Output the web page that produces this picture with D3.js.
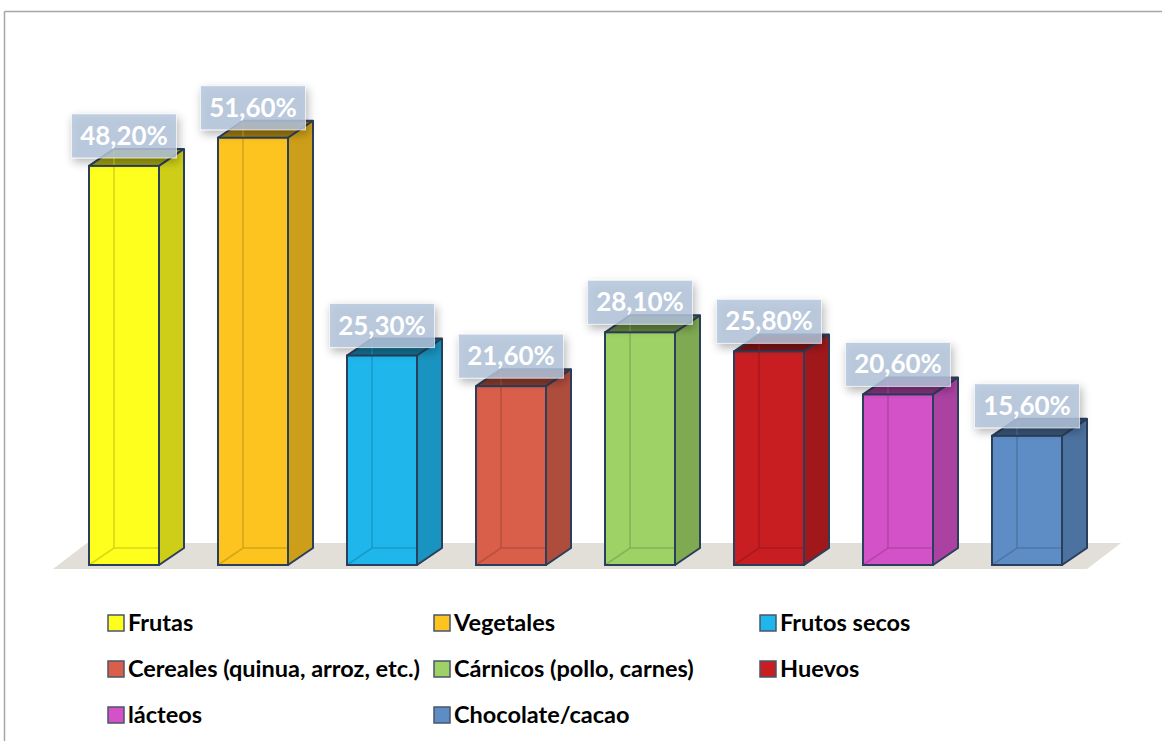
<!DOCTYPE html>
<html>
<head>
<meta charset="utf-8">
<script src="https://cdn.jsdelivr.net/npm/d3@7"></script>
<style>
  html, body { margin: 0; padding: 0; background: #fff; }
  svg { display: block; }
</style>
</head>
<body>
<div id="chart"></div>
<script>
// Food groups and their share (%)
const categories = ["Frutas", "Vegetales", "Frutos secos", "Cereales (quinua, arroz, etc.)",
  "Cárnicos (pollo, carnes)", "Huevos", "lácteos", "Chocolate/cacao"];
const values = [48.2, 51.6, 25.3, 21.6, 28.1, 25.8, 20.6, 15.6];
const valueLabels = ["48,20%", "51,60%", "25,30%", "21,60%", "28,10%", "25,80%", "20,60%", "15,60%"];
const colors = ["#ffff1e", "#fdc41f", "#1fb6ec", "#d95f4b", "#9ed266", "#c81e22", "#d452c8", "#5e8dc6"];

const W = 1162, H = 741;
const svg = d3.select("#chart").append("svg").attr("width", W).attr("height", H);

// frame lines
svg.append("line").attr("x1", 4.5).attr("y1", 11.5).attr("x2", W).attr("y2", 11.5)
  .attr("stroke", "#a6a6a6").attr("stroke-width", 1.5);
svg.append("line").attr("x1", 4.5).attr("y1", 11.5).attr("x2", 4.5).attr("y2", H)
  .attr("stroke", "#a6a6a6").attr("stroke-width", 1.5);

const defs = svg.append("defs");
const glow = defs.append("filter").attr("id", "glow")
  .attr("x", "-30%").attr("y", "-40%").attr("width", "160%").attr("height", "190%");
glow.append("feGaussianBlur").attr("in", "SourceAlpha").attr("stdDeviation", 5).attr("result", "b");
glow.append("feOffset").attr("in", "b").attr("dx", 2).attr("dy", 4).attr("result", "o");
glow.append("feComponentTransfer").attr("in", "o").attr("result", "s")
  .append("feFuncA").attr("type", "linear").attr("slope", 0.35);
const m = glow.append("feMerge");
m.append("feMergeNode").attr("in", "s");
m.append("feMergeNode").attr("in", "SourceGraphic");

// scales
const step = 129, bw = 70;
const pIn = (step - bw) / step;
const x = d3.scaleBand().domain(categories)
  .range([89 - step * pIn / 2, 89 - step * pIn / 2 + step * categories.length])
  .paddingInner(pIn).paddingOuter(pIn / 2);
const y = d3.scaleLinear().domain([0, 60]).range([565, 565 - 60 * 8.28]);

const dx = 25, dy = -17;     // bar depth
const fdx = 34, fdy = -26;   // floor depth

// floor
const floorY = 569;
const fx0 = 53, fx1 = 1087;
svg.append("polygon")
  .attr("points", [[fx0, floorY], [fx1, floorY], [fx1 + fdx, floorY + fdy], [fx0 + fdx, floorY + fdy]].join(" "))
  .attr("fill", "#e2ded8");

const edge = "#2a3f5c";
const bars = svg.append("g");
categories.forEach((c, i) => {
  const x0 = x(c), x1 = x0 + x.bandwidth();
  const yt = y(values[i]), yb = y(0);
  const col = d3.color(colors[i]);
  const g = bars.append("g");
  // front face
  g.append("rect").attr("x", x0).attr("y", yt).attr("width", bw).attr("height", yb - yt)
    .attr("fill", col.formatHex());
  // right face
  g.append("polygon")
    .attr("points", [[x1, yt], [x1 + dx, yt + dy], [x1 + dx, yb + dy], [x1, yb]].join(" "))
    .attr("fill", col.darker(0.6).formatHex());
  // top face
  g.append("polygon")
    .attr("points", [[x0, yt], [x1, yt], [x1 + dx, yt + dy], [x0 + dx, yt + dy]].join(" "))
    .attr("fill", col.darker(1.35).formatHex());
  // hidden edges seen through the translucent box
  const hid = col.darker(0.6).formatHex();
  g.append("polyline")
    .attr("points", [[x0, yb], [x0 + dx, yb + dy], [x1 + dx, yb + dy]].join(" "))
    .attr("fill", "none").attr("stroke", hid).attr("stroke-width", 1.6).attr("stroke-opacity", 0.8);
  g.append("line").attr("x1", x0 + dx).attr("y1", yb + dy).attr("x2", x0 + dx).attr("y2", yt + dy)
    .attr("stroke", hid).attr("stroke-width", 1.6).attr("stroke-opacity", 0.8);
  // visible edges
  g.append("rect").attr("x", x0).attr("y", yt).attr("width", bw).attr("height", yb - yt)
    .attr("fill", "none").attr("stroke", edge).attr("stroke-width", 2);
  g.append("polyline")
    .attr("points", [[x0, yt], [x0 + dx, yt + dy], [x1 + dx, yt + dy], [x1 + dx, yb + dy], [x1, yb]].join(" "))
    .attr("fill", "none").attr("stroke", edge).attr("stroke-width", 2).attr("stroke-linejoin", "round");
  g.append("line").attr("x1", x1).attr("y1", yt).attr("x2", x1 + dx).attr("y2", yt + dy)
    .attr("stroke", edge).attr("stroke-width", 2);
});

// value labels
const lw = 105, lh = 44;
const labels = svg.append("g");
categories.forEach((c, i) => {
  const cx = x(c) + x.bandwidth() / 2;
  const top = y(values[i]) - 8 - lh;
  labels.append("rect").attr("x", cx - lw / 2).attr("y", top).attr("width", lw).attr("height", lh)
    .attr("fill", "#b3c5dc").attr("fill-opacity", 0.82)
    .attr("stroke", "#ffffff").attr("stroke-opacity", 0.6).attr("stroke-width", 1)
    .attr("filter", "url(#glow)");
  labels.append("text").attr("x", cx).attr("y", top + 31)
    .attr("text-anchor", "middle")
    .attr("font-family", "Lato, 'Open Sans', sans-serif").attr("font-weight", "bold")
    .attr("font-size", 26).attr("fill", "#ffffff")
    .text(valueLabels[i]);
});

// legend
const legendCols = [108, 434, 760];
const legendRows = [622, 668, 714];
const legend = svg.append("g");
categories.forEach((c, i) => {
  const lx = legendCols[i % 3], ly = legendRows[Math.floor(i / 3)];
  legend.append("rect").attr("x", lx).attr("y", ly - 7).attr("width", 16).attr("height", 16)
    .attr("fill", colors[i]).attr("stroke", "#4a5568").attr("stroke-width", 1.5);
  legend.append("text").attr("x", lx + 20).attr("y", ly + 9)
    .attr("font-family", "Lato, 'Open Sans', sans-serif").attr("font-weight", "bold")
    .attr("font-size", 23.5).attr("fill", "#000")
    .text(c);
});
</script>
</body>
</html>
